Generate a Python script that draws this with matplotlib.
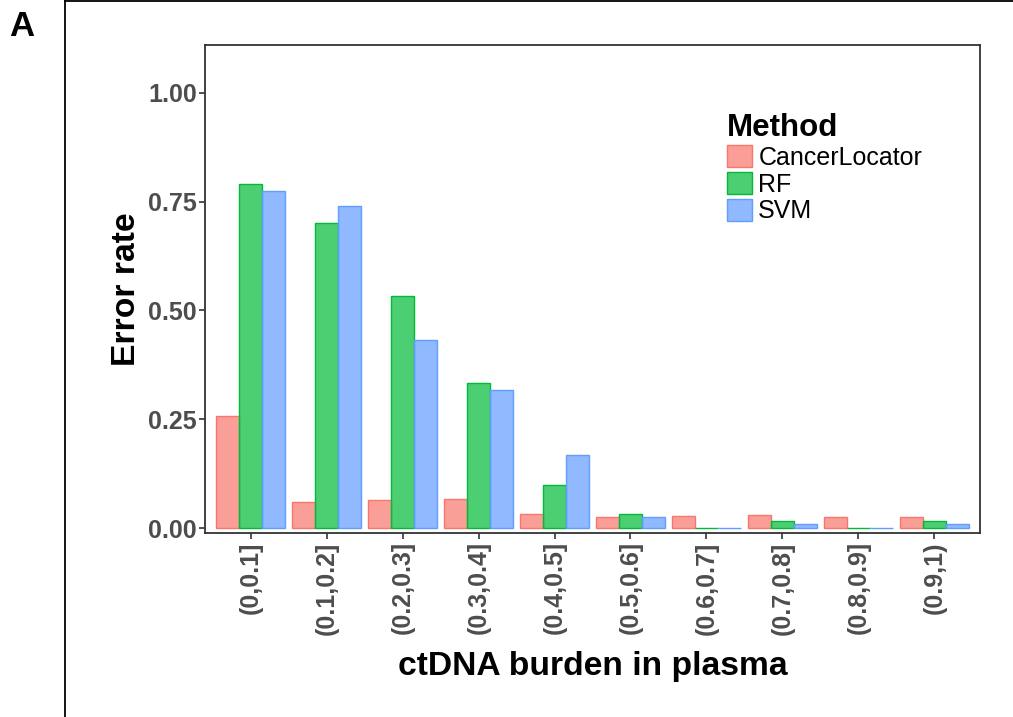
import numpy as np
import matplotlib
matplotlib.use("Agg")
import matplotlib.pyplot as plt
from matplotlib.patches import Patch
from matplotlib.lines import Line2D

plt.rcParams['font.family'] = ['Liberation Sans', 'DejaVu Sans']

# данные
bins = ['(0,0.1]', '(0.1,0.2]', '(0.2,0.3]', '(0.3,0.4]', '(0.4,0.5]',
        '(0.5,0.6]', '(0.6,0.7]', '(0.7,0.8]', '(0.8,0.9]', '(0.9,1)']
methods = ['CancerLocator', 'RF', 'SVM']
cancer_locator = [0.257, 0.060, 0.064, 0.067, 0.032, 0.025, 0.027, 0.030, 0.025, 0.025]
rf = [0.791, 0.700, 0.533, 0.333, 0.099, 0.032, 0.001, 0.016, 0.001, 0.016]
svm = [0.775, 0.740, 0.432, 0.317, 0.168, 0.025, 0.001, 0.0085, 0.001, 0.0085]
colors = ['#F8766D', '#00BA38', '#619CFF']

fig = plt.figure(figsize=(10.13, 7.17), dpi=100)
ax = fig.add_axes([0.2024, 0.2566, 0.7650, 0.6806])

x = np.arange(len(bins))
w = 0.3
for i, (vals, c) in enumerate(zip([cancer_locator, rf, svm], colors)):
    ax.bar(x + (i - 1) * w, vals, width=w, color=c, alpha=0.7, edgecolor='none')
    ax.bar(x + (i - 1) * w, vals, width=w, facecolor='none', edgecolor=c, linewidth=1.0)

ax.set_xlim(-0.6, 9.6)
ax.set_ylim(-0.0115, 1.11)
ax.set_xticks(x)
ax.set_xticklabels(bins, rotation=90, ha='center', va='top')
ax.set_yticks([0, 0.25, 0.5, 0.75, 1.0])
ax.set_yticklabels(['0.00', '0.25', '0.50', '0.75', '1.00'])
for lab in ax.get_xticklabels() + ax.get_yticklabels():
    lab.set_fontweight('bold')
    lab.set_fontsize(18)
    lab.set_color('#4D4D4D')
ax.tick_params(length=4, width=1.2, color='#333333', pad=2)
for s in ax.spines.values():
    s.set_color('#333333')
    s.set_linewidth(1.3)

ax.set_xlabel('ctDNA burden in plasma', fontsize=24.2, fontweight='bold', labelpad=12)
ax.set_ylabel('Error rate', fontsize=24.2, fontweight='bold', labelpad=4)

# легенда
handles = [Patch(facecolor=c, alpha=0.7, edgecolor=c, linewidth=1.0) for c in colors]
leg = fig.legend(handles, methods, loc='upper left', bbox_to_anchor=(727 / 1013, 1 - 113 / 717),
                 frameon=False, fontsize=18, handlelength=1.0, handleheight=1.0,
                 handletextpad=0.25, labelspacing=0.08, borderpad=0, borderaxespad=0,
                 title='Method', title_fontproperties={'weight': 'bold', 'size': 22.5},
                 alignment='left')
for h, c in zip(leg.legend_handles, colors):
    h.set_alpha(None)
    h.set_facecolor(matplotlib.colors.to_rgba(c, 0.7))
    h.set_edgecolor(c)

# рамка и буква панели
fig.add_artist(Line2D([65 / 1013, 65 / 1013], [0, 1 - 1 / 717], color='black', linewidth=1.3))
fig.add_artist(Line2D([65 / 1013, 1], [1 - 1 / 717, 1 - 1 / 717], color='black', linewidth=1.3))
fig.text(9 / 1013, 1 - 36 / 717, 'A', fontsize=25, fontweight='bold', ha='left', va='baseline')

fig.savefig('out.png', dpi=100)
